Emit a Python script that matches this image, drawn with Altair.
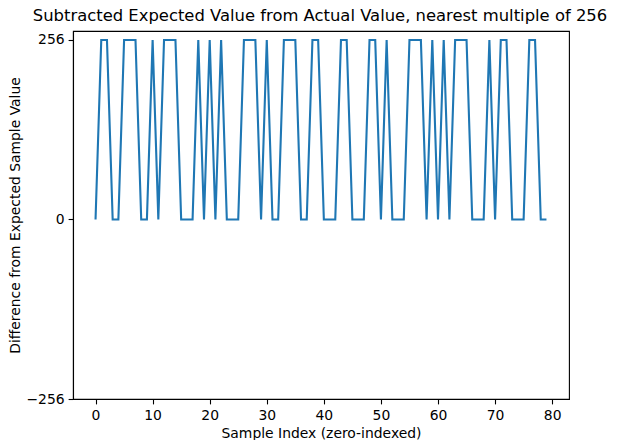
import altair as alt
import pandas as pd

sample_index = list(range(80))
difference = [
    0, 256, 256, 0, 0, 256, 256, 256, 0, 0,
    256, 0, 256, 256, 256, 0, 0, 0, 256, 0,
    256, 0, 256, 0, 0, 0, 256, 256, 256, 0,
    256, 0, 0, 256, 256, 256, 0, 0, 256, 256,
    0, 0, 0, 256, 256, 0, 0, 0, 256, 256,
    0, 256, 0, 0, 0, 256, 256, 256, 0, 256,
    0, 256, 0, 256, 256, 256, 0, 0, 0, 256,
    0, 256, 256, 0, 0, 0, 256, 256, 0, 0,
]
x_ticks = [0, 10, 20, 30, 40, 50, 60, 70, 80]
y_ticks = [-256, 0, 256]
title_text = ["Subtracted Expected Value from Actual Value, nearest multiple of 256"]

df = pd.DataFrame({"idx": sample_index, "diff": difference})
title_df = pd.DataFrame({"t": title_text})

FONT = "DejaVu Sans"
W, H = 496, 368

line = alt.Chart(df).mark_line(color="#1f77b4", strokeWidth=2.1, clip=True).encode(
    x=alt.X("idx:Q",
            scale=alt.Scale(domain=[-3.95, 82.95], nice=False, zero=False),
            axis=alt.Axis(values=x_ticks, title="Sample Index (zero-indexed)",
                          format="d", labelPadding=5, titlePadding=4)),
    y=alt.Y("diff:Q",
            scale=alt.Scale(domain=[-256, 268.8], nice=False, zero=False),
            axis=alt.Axis(values=y_ticks, title="Difference from Expected Sample Value",
                          format="d", titlePadding=3)),
)

title = alt.Chart(title_df).mark_text(
    font=FONT, fontSize=16.4, color="black", align="center", baseline="alphabetic"
).encode(
    text="t:N", x=alt.value(W / 2 - 1), y=alt.value(-10)
)

chart = alt.layer(line, title).properties(
    width=W,
    height=H,
    autosize=alt.AutoSizeParams(type="none"),
    padding={"left": 65, "top": 23, "right": 41, "bottom": 41},
).configure_view(
    stroke="black", strokeWidth=1.1
).configure_axis(
    grid=False,
    domainColor="black", domainWidth=1.1,
    tickColor="black", tickWidth=1.1, tickSize=4.9,
    labelColor="black", labelFont=FONT, labelFontSize=13.9, labelPadding=4,
    titleColor="black", titleFont=FONT, titleFontSize=13.9, titleFontWeight="normal",
)

chart.save("out.html", embed_options={"renderer": "svg", "actions": False})
